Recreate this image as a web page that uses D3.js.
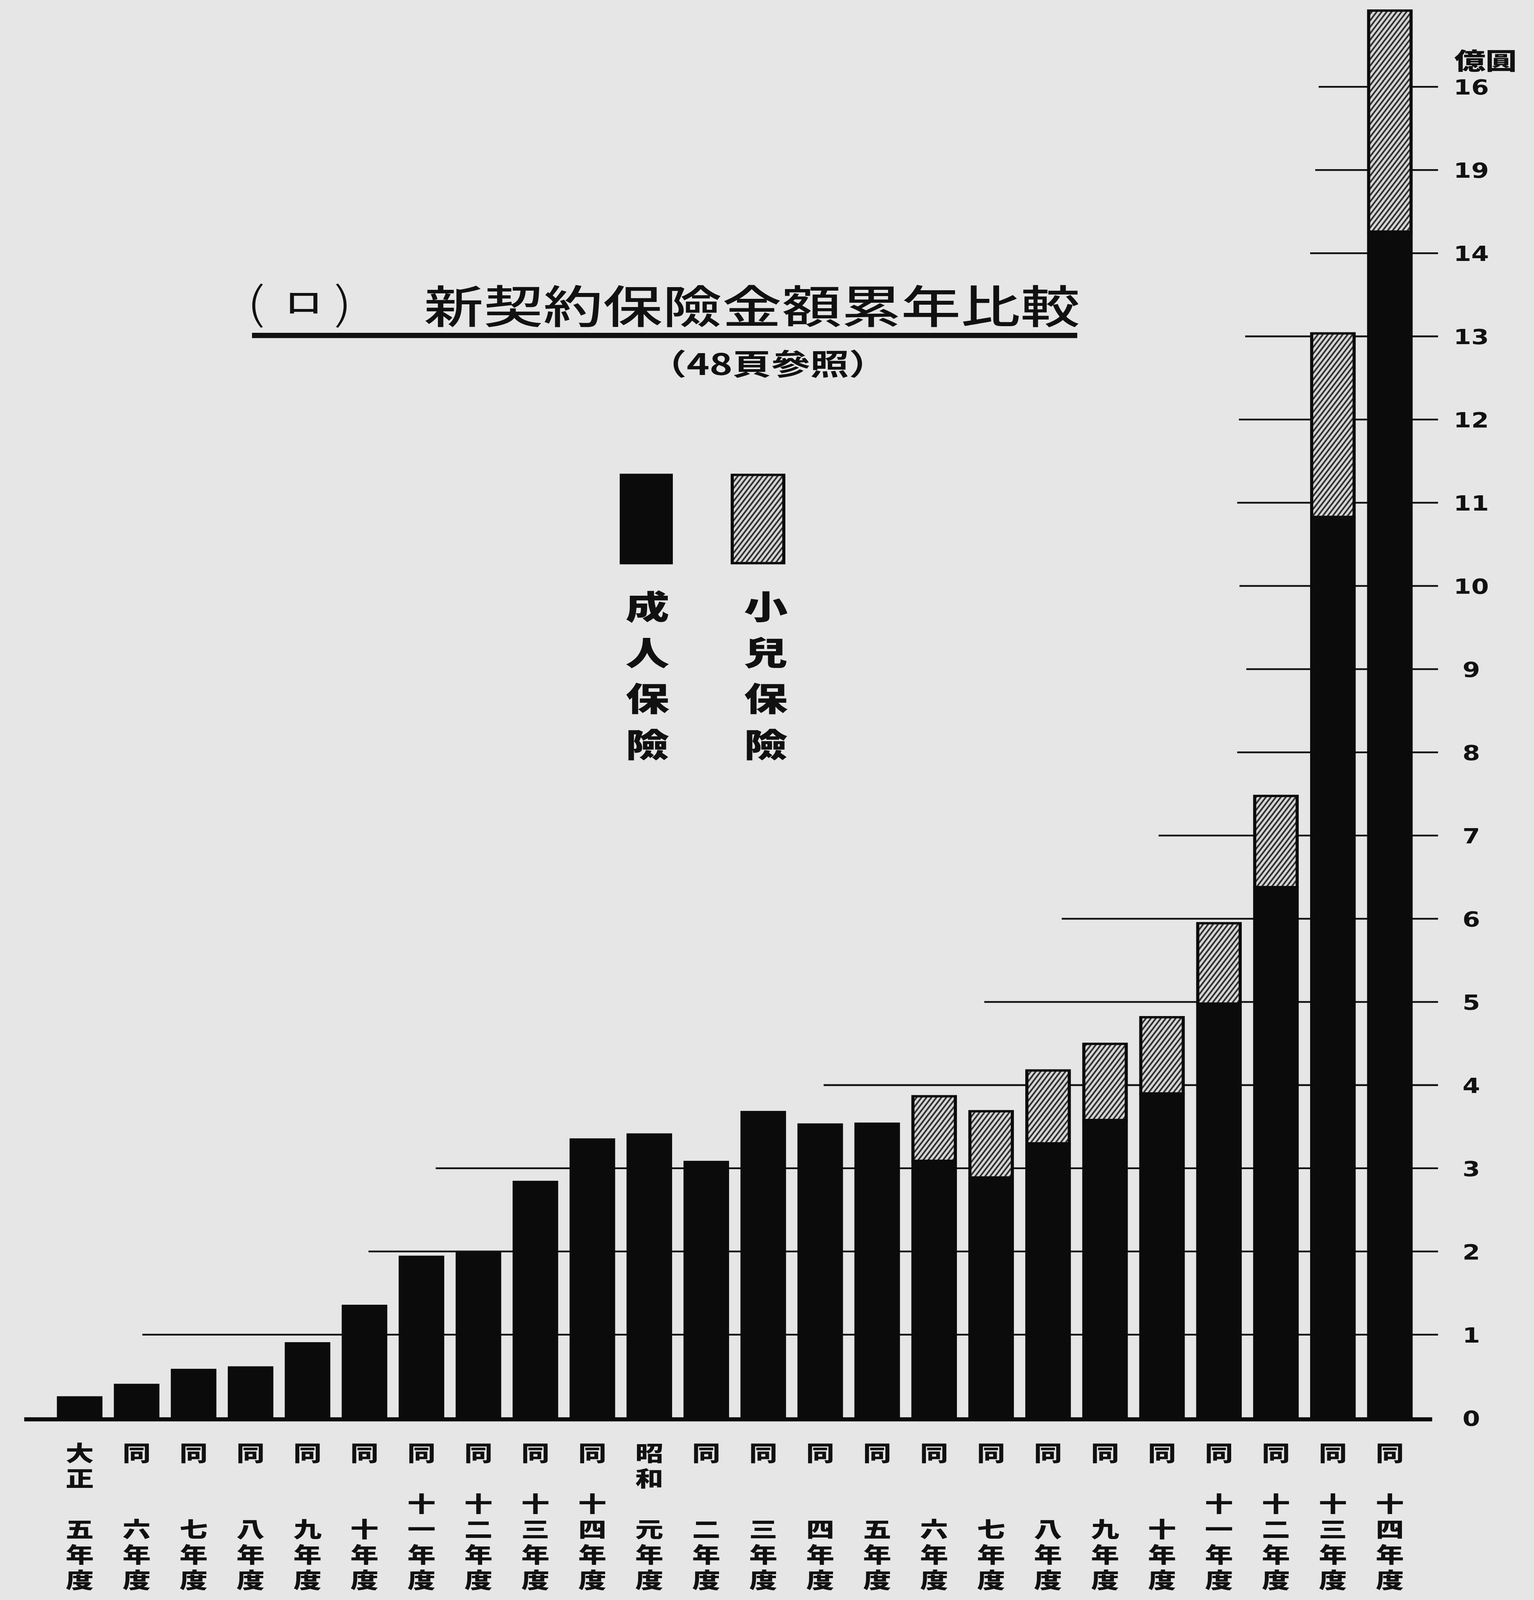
<!DOCTYPE html>
<html>
<head>
<meta charset="utf-8">
<script src="https://cdn.jsdelivr.net/npm/d3@7"></script>
<style>
html, body { margin: 0; padding: 0; background: #e6e6e6; overflow: hidden; }
svg { display: block; width: 100vw; height: 100vh; }
.vert { writing-mode: vertical-rl; text-orientation: upright; }
</style>
</head>
<body>
<svg id="chart" viewBox="0 0 3926 5438" preserveAspectRatio="none"></svg>
<script>
// fiscal years, Taisho 5 .. Showa 14
var years = ["大正五年度", "同六年度", "同七年度", "同八年度", "同九年度", "同十年度",
	"同十一年度", "同十二年度", "同十三年度", "同十四年度", "昭和元年度", "同二年度",
	"同三年度", "同四年度", "同五年度", "同六年度", "同七年度", "同八年度",
	"同九年度", "同十年度", "同十一年度", "同十二年度", "同十三年度", "同十四年度"];

var seriesNames = ["成人保險", "小兒保險"];

// 億圓
var adult = [0.26, 0.41, 0.59, 0.62, 0.91, 1.36, 1.95, 1.99, 2.85, 3.36, 3.42, 3.09,
	3.69, 3.54, 3.55, 3.09, 2.89, 3.30, 3.58, 3.90, 4.98, 6.38, 10.83, 14.26];
var child = [0, 0, 0, 0, 0, 0, 0, 0, 0, 0, 0, 0,
	0, 0, 0, 0.79, 0.81, 0.89, 0.93, 0.93, 0.98, 1.11, 2.22, 2.67];

// printed scale, 0..16 (the 15 is printed as 19)
var tickValues = [0, 1, 2, 3, 4, 5, 6, 7, 8, 9, 10, 11, 12, 13, 14, 15, 16];
var tickLabels = ["0", "1", "2", "3", "4", "5", "6", "7", "8", "9", "10", "11", "12", "13", "14", "19", "16"];
var unitLabel = "億圓";

// guide line for each value 1..16 starts at this bar position (in bars, from the first bar)
var guideStart = [1.10, 5.07, 6.25, 13.06, 15.88, 17.24, 18.94, 20.32,
	20.48, 20.36, 20.32, 20.35, 20.46, 21.60, 21.69, 21.75];

var titleMark = "ロ";
var title = "新契約保險金額累年比較";
var subtitle = "（48頁參照）";

var svg = d3.select("#chart");
var jp = "'Noto Sans CJK JP', 'Noto Sans CJK SC', sans-serif";
var num = "'Liberation Sans Narrow', 'DejaVu Sans Condensed', 'Liberation Sans', sans-serif";

svg.append("rect").attr("width", 3926).attr("height", 5438).attr("fill", "#e6e6e6");

var x = d3.scaleBand()
	.domain(d3.range(years.length))
	.range([131, 3630])
	.paddingInner(0.2)
	.paddingOuter(0.1);
var y = d3.scaleLinear().domain([0, 16]).range([4819, 295]);

function barPos(i) {
	return x(0) + x.bandwidth() / 2 + i * x.step();
}

var defs = svg.append("defs");
var pat = defs.append("pattern")
	.attr("id", "hatch")
	.attr("patternUnits", "userSpaceOnUse")
	.attr("width", 11).attr("height", 11)
	.attr("patternTransform", "rotate(30)");
pat.append("rect").attr("width", 11).attr("height", 11).attr("fill", "#d6d6d6");
pat.append("line")
	.attr("x1", 2.5).attr("y1", 0).attr("x2", 2.5).attr("y2", 11)
	.attr("stroke", "#2a2a2a").attr("stroke-width", 4.5);

// guide lines behind the bars
var axisEnd = x(years.length - 1) + x.bandwidth() + 65;
svg.append("g").selectAll("line")
	.data(guideStart)
	.enter().append("line")
		.attr("x1", function(d) { return barPos(d); })
		.attr("x2", axisEnd)
		.attr("y1", function(d, i) { return y(i + 1); })
		.attr("y2", function(d, i) { return y(i + 1); })
		.attr("stroke", "#111")
		.attr("stroke-width", 6);

// stacked bars
var rows = years.map(function(d, i) { return {i: i, adult: adult[i], child: child[i]}; });
var stack = d3.stack().keys(["adult", "child"])(rows);

svg.append("g").selectAll("rect")
	.data(stack[0])
	.enter().append("rect")
		.attr("x", function(d) { return x(d.data.i); })
		.attr("y", function(d) { return y(d[1]); })
		.attr("width", x.bandwidth())
		.attr("height", function(d) { return y(d[0]) - y(d[1]); })
		.attr("fill", "#0b0b0b");

svg.append("g").selectAll("rect")
	.data(stack[1].filter(function(d) { return d[1] - d[0] > 0; }))
	.enter().append("rect")
		.attr("x", function(d) { return x(d.data.i) + 4; })
		.attr("y", function(d) { return y(d[1]) + 4; })
		.attr("width", x.bandwidth() - 8)
		.attr("height", function(d) { return y(d[0]) - y(d[1]) - 4; })
		.attr("fill", "url(#hatch)")
		.attr("stroke", "#0b0b0b")
		.attr("stroke-width", 8);

// baseline
svg.append("line")
	.attr("x1", 62).attr("x2", axisEnd - 15)
	.attr("y1", y(0) + 5).attr("y2", y(0) + 5)
	.attr("stroke", "#0b0b0b")
	.attr("stroke-width", 14);

// right hand scale
var axis = d3.axisRight(y).tickValues(tickValues).tickSize(0)
	.tickFormat(function(d, i) { return tickLabels[i]; });
var ax = svg.append("g")
	.attr("transform", "translate(" + (axisEnd + 85) + ",0)")
	.call(axis);
ax.select(".domain").remove();
ax.selectAll("text")
	.attr("x", 0)
	.attr("dy", "0.36em")
	.attr("text-anchor", "middle")
	.attr("font-family", num)
	.attr("font-weight", "bold")
	.attr("font-size", 72)
	.attr("fill", "#111");

svg.append("text")
	.attr("x", 3802).attr("y", 236)
	.attr("text-anchor", "middle")
	.attr("font-family", jp)
	.attr("font-weight", 900)
	.attr("font-size", 80)
	.attr("fill", "#111")
	.text(unitLabel);

// year labels, written top to bottom in six slots (era, era, tens, number, 年, 度)
function slots(s) {
	var era = s[0] == "同" ? [s[0], "　"] : [s[0], s[1]];
	var rest = s.slice(s[0] == "同" ? 1 : 2);
	var n = rest.slice(0, rest.length - 2);
	var mid = n.length == 2 ? [n[0], n[1]] : ["　", n];
	return era.concat(mid).concat(["年", "度"]).join("");
}

svg.append("g").selectAll("text")
	.data(years)
	.enter().append("text")
		.attr("class", "vert")
		.attr("x", function(d, i) { return x(i) + x.bandwidth() / 2; })
		.attr("y", 4902)
		.attr("font-family", jp)
		.attr("font-weight", 900)
		.attr("font-size", 72)
		.attr("letter-spacing", 14.4)
		.attr("fill", "#111")
		.text(function(d) { return slots(d); });

// title
var t = svg.append("g").attr("font-family", jp).attr("fill", "#111");
t.append("text").attr("x", 655).attr("y", 1085).attr("text-anchor", "middle")
	.attr("font-size", 150).attr("font-weight", 300).text("(");
t.append("text").attr("x", 777).attr("y", 1064).attr("text-anchor", "middle")
	.attr("font-size", 96).attr("font-weight", 500).text(titleMark);
t.append("text").attr("x", 878).attr("y", 1085).attr("text-anchor", "middle")
	.attr("font-size", 150).attr("font-weight", 300).text(")");
t.append("text").attr("x", 1085).attr("y", 1098)
	.attr("font-size", 152).attr("font-weight", 500)
	.attr("textLength", 1679).attr("lengthAdjust", "spacing")
	.text(title);
t.append("line").attr("x1", 645).attr("x2", 2757).attr("y1", 1140).attr("y2", 1140)
	.attr("stroke", "#111").attr("stroke-width", 18);
t.append("text").attr("x", 1658).attr("y", 1274)
	.attr("font-size", 100).attr("font-weight", 700)
	.attr("textLength", 614).attr("lengthAdjust", "spacingAndGlyphs")
	.text(subtitle);

// legend
var lx = [1654, 1940];
var lg = svg.append("g");
lg.append("rect").attr("x", lx[0] - 68).attr("y", 1610).attr("width", 136).attr("height", 308)
	.attr("fill", "#0b0b0b");
lg.append("rect").attr("x", lx[1] - 70 + 4).attr("y", 1614).attr("width", 140 - 8).attr("height", 300)
	.attr("fill", "url(#hatch)").attr("stroke", "#0b0b0b").attr("stroke-width", 8);
lg.selectAll("text")
	.data(seriesNames)
	.enter().append("text")
		.attr("class", "vert")
		.attr("x", function(d, k) { return lx[k] + (k == 1 ? 20 : 3); })
		.attr("y", 2006)
		.attr("font-family", jp)
		.attr("font-weight", 900)
		.attr("font-size", 112)
		.attr("letter-spacing", 44)
		.attr("fill", "#111")
		.text(function(d) { return d; });
</script>
</body>
</html>
